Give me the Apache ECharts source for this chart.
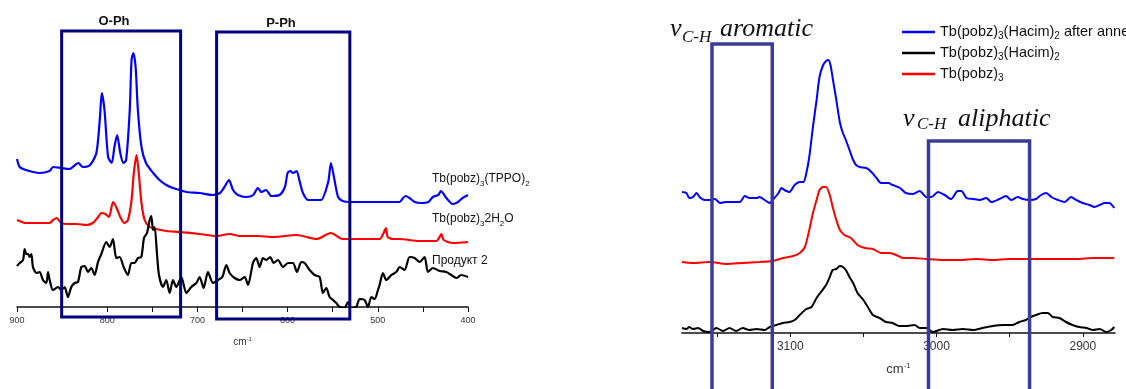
<!DOCTYPE html>
<html><head><meta charset="utf-8">
<script src="https://cdn.jsdelivr.net/npm/echarts@6/dist/echarts.min.js"></script>
<style>html,body{margin:0;padding:0;background:#fff}#c{width:1126px;height:389px}</style>
</head><body><div id="c"></div>
<script>
// ---------- Left panel (900-400 cm-1) ----------
const leftTickValues = [400,450,500,550,600,650,700,750,800,850,900];
const leftTickLabels = [400,500,600,700,800,900];

const leftBlueX = [900,897,890,882,875,864,860,851,842,832,827,819,812,808,806,803,799,795,792,789,785.5,782,779,775,773,771,768.5,766,762,757,749,742,734.5,727,720,712,697.5,683,675,670,665,660.5,655,646,638,633,629,624,618,609,603,600,597,594,590,587,583,577,570,563,555,552,548,544,539,531,513,494,476,472,469,465,459,452,444,439,433,430,424,417,411,406,400];
const leftBlueY = [148,140,137,135,134,136,140,139,138,144,140,142,154,190,214,197,150,144,160,172,154,144,147,197,247,254,240,197,160,144,134,127,122,119,117,115,114,112,114,120,127,117,112,110,112,119,115,117,111,112,120,134,136,134,136,127,114,107,107,107,125,144,127,110,106,105,105,105,105,109,111,109,105,104,105,110,112,116,109,103,105,109,112];

const leftRedX = [900,890,875,864,860,856,851,845,834,823,816,810,806.5,802,798,793.5,790,785.5,781,777,773,770.5,767.5,765,762,758.5,753,745.5,734.5,720,697.5,679,664,653,633,616,590,568,552,539,513,498,493.5,491,489,483,476,454,435,431.5,429.5,427,417,400];
const leftRedY = [87,84,84,84,87,89,84,83,83,82,84,90,94,93,90,105,100,90,84,87,107,134,152,134,104,87,80,78,76,75,73,71,73,71,71,70,72,68,74,68,68,68,74,79,70,68,68,66,66,70,73,67,64,65];

const leftBlackX = [900,897,893.3,891.5,889.7,887.8,886,884.1,882.3,878.6,874.9,871.2,867.5,865.6,863.8,860.1,854.6,850.9,847.2,843.5,839.8,836.1,832.4,828.7,825,821.3,817.6,813.9,810.2,806.5,801,797.3,793.6,789.9,786.2,781.8,777,773.3,769.6,765.9,762.2,759.2,755.9,752.9,751.1,749.2,747.4,744.8,742.6,738.2,734.5,730.8,727.1,723.4,717.8,712.3,706.8,701.2,697.5,693.1,688.3,682.7,677.2,672.4,667.9,664.3,658.7,653.2,647.6,643.9,638.4,634.7,631,627.3,623.6,619.2,615.5,610.7,605.1,599.6,594.1,589.6,584.8,581.1,575.6,570,564.5,560.8,557.1,553.4,549.7,546,542.3,536.8,533.1,529.4,523.9,520.2,514.6,510.9,507.2,503.5,499.8,498,494.3,490.6,485,479.5,475.8,470.3,464.7,459.2,453.6,448.1,444.4,438.9,431.5,424.1,418.6,413,407.5,400];
const leftBlackY = [41,44,47,58,53,53,50,53,40,34,35,27,24,35,27,17,20,17,20,10,20,24,25,40,41,35,39,32,45,53,65,60,68,49,50,40,32,44,44,49,50,69,74,87,91,77,80,53,32,20,27,14,27,20,30,14,20,24,30,19,35,24,27,30,42,34,29,27,30,22,44,49,40,49,47,50,44,47,40,44,44,35,45,44,37,32,30,14,19,10,7,4,0,-1,5,-1,0,8,7,0,10,8,17,22,34,27,32,35,40,37,50,49,45,50,35,39,36,35,32,29,32,30];

const leftNames = ['Tb(pobz)3(TPPO)2', 'Tb(pobz)32H2O', 'Продукт 2'];
const leftBoxNames = ['O-Ph', 'P-Ph'];
const leftBoxX = [[850.5, 718.6], [678.7, 531]];
const leftBoxY = [[-10, 276], [-12, 275]];

// ---------- Right panel (3174-2878 cm-1) ----------
const rightTickValues = [2900,2950,3000,3050,3100,3150];
const rightTickLabels = [2900,3000,3100];

const rightBlueX = [3174,3171,3169,3166.5,3164,3162,3158.5,3155,3151.5,3148,3144,3139,3134.5,3131,3128,3123,3121,3117.5,3114,3112,3108,3106,3104,3100.5,3097,3093.5,3091,3089,3087,3084.5,3082,3080,3077.5,3075.5,3074,3072.5,3071,3068.5,3066,3064,3062,3059.5,3057,3055,3052.5,3048,3044.5,3041,3038,3033,3030,3025,3021,3016,3011.5,3007,3003.5,2999,2994.5,2990,2985.5,2983,2979.5,2975,2970.5,2966,2962.5,2957,2952.5,2949,2944.5,2941,2936.5,2932,2928.5,2925,2921.5,2917,2912.5,2908,2904.5,2900,2895.5,2892,2888.5,2885,2882,2878.5];
const rightBlueY = [141,140,135,136,140,136,133,133,134,130,131,131,131,137,135,135,136,133,130,133,140,145,143,141,148,151,151,160,176,206,233,256,268,272,273,268,255,233,210,200,193,183,173,168,166,165,161,155,150,150,148,145,140,139,142,136,136,141,138,134,142,142,135,134,133,135,131,134,137,133,136,134,133,134,138,140,136,133,131,136,133,130,128,126,128,130,130,125];

const rightBlackX = [3174,3171,3169,3166.5,3163,3159.5,3155,3150.5,3146,3141.5,3137,3132.5,3128,3123,3117.5,3114,3109.5,3105,3100.5,3097,3093.5,3089,3085.5,3082,3079,3075.5,3073,3071,3068.5,3066,3064,3062,3059.5,3057,3054,3050,3047,3043.5,3039,3034.5,3030,3025.5,3021,3015,3011.5,3007,3002.5,2995.5,2989,2982,2975,2968.5,2961.5,2954.5,2948,2943.5,2939,2935.5,2932,2927.5,2924,2920.5,2916,2911.5,2907,2902.5,2897.5,2893,2888.5,2884,2880.5,2878.5];
const rightBlackY = [5,4,6,4,5,2,1,5,2,5,2,5,3,4,3,6,8,10,11,13,18,24,26,35,41,48,56,63,64,67,66,63,56,50,40,33,26,18,15,11,10,7,7,8,5,5,1,4,3,4,3,5,7,8,8,11,13,16,18,20,20,16,15,11,8,6,5,3,4,1,3,6];

const rightRedX = [3174,3166.5,3155,3143.5,3132.5,3121,3112,3105,3098,3093.5,3090,3087,3084.5,3082,3080,3077.5,3075.5,3073,3071,3068.5,3066,3063,3058.5,3054,3049,3043.5,3038,3032,3027.5,3023,3016,3007,2995.5,2984.5,2973,2961.5,2950,2938.5,2927.5,2916,2904.5,2893,2878.5];
const rightRedY = [71,70,71,69,70,71,72,75,77,80,86,103,120,133,143,146,146,138,126,113,103,98,95,88,85,84,80,80,78,75,75,74,73,73,74,73,74,74,74,74,74,75,75];

const rightNames = ['Tb(pobz)3(Hacim)2 after annealing', 'Tb(pobz)3(Hacim)2', 'Tb(pobz)3'];
const rightBoxNames = ['aromatic', 'aliphatic'];
const rightBoxX = [[3153.5, 3112.3], [3005.5, 2936.4]];
const rightBoxY = [[-70, 289], [-70, 192]];

// ---------- helpers ----------
const zip = (xs, ys) => xs.map((x, i) => [x, ys[i]]);
const SANS = "'Liberation Sans', Arial, sans-serif";
const SERIF = "'Liberation Serif', 'Times New Roman', serif";
const legendRich = {
  n: { fontSize: 14.5, lineHeight: 18, fontFamily: SANS, color: '#111' },
  s: { fontSize: 10, lineHeight: 10, verticalAlign: 'bottom', fontFamily: SANS, color: '#111' }
};
function richName(name) {
  const map = {
    'Tb(pobz)3(Hacim)2 after annealing': '{n|Tb(pobz)}{s|3}{n|(Hacim)}{s|2}{n| after annealing}',
    'Tb(pobz)3(Hacim)2': '{n|Tb(pobz)}{s|3}{n|(Hacim)}{s|2}',
    'Tb(pobz)3': '{n|Tb(pobz)}{s|3}'
  };
  return map[name] || name;
}

const chart = echarts.init(document.getElementById('c'), null, { renderer: 'canvas' });

function xAxisCfg(grid, min, max, ticks, labels, fontSize, tickLen, margin, nameGap, nameSize) {
  return {
    type: 'value', gridIndex: grid, min: min, max: max, inverse: true,
    axisLine: { show: true, onZero: false, lineStyle: { color: '#111', width: 1.5 } },
    axisTick: { show: true, inside: false, length: tickLen, customValues: ticks, lineStyle: { color: '#111', width: 1 } },
    axisLabel: { customValues: labels, formatter: (v) => String(v), fontSize: fontSize, color: '#333', margin: margin, fontFamily: SANS },
    splitLine: { show: false },
    name: '{m|cm}{p|-1}', nameLocation: 'middle', nameGap: nameGap,
    nameTextStyle: {
      rich: {
        m: { fontSize: nameSize, lineHeight: nameSize + 2, color: '#333', fontFamily: SANS },
        p: { fontSize: nameSize * 0.6, lineHeight: nameSize * 0.6, verticalAlign: 'top', color: '#333', fontFamily: SANS }
      }
    }
  };
}

const lineSeries = (name, xi, data, color, width) => ({
  name: name, type: 'line', xAxisIndex: xi, yAxisIndex: xi, data: data,
  showSymbol: false, symbol: 'none', smooth: 0.25, clip: true,
  lineStyle: { color: color, width: width }, itemStyle: { color: color },
  emphasis: { disabled: true }, animation: false
});

chart.setOption({
  animation: false,
  backgroundColor: '#fff',
  grid: [
    { left: 17, top: 27, width: 451, height: 280 },
    { left: 682, top: 53, width: 433, height: 280 }
  ],
  xAxis: [
    xAxisCfg(0, 400, 900, leftTickValues, leftTickLabels, 9, 5, 9, 29, 10),
    xAxisCfg(1, 2878, 3174, rightTickValues, rightTickLabels, 12, 4, 8, 29, 13)
  ],
  yAxis: [
    { type: 'value', gridIndex: 0, min: 0, max: 280, show: false },
    { type: 'value', gridIndex: 1, min: 0, max: 280, show: false }
  ],
  legend: {
    data: rightNames, orient: 'vertical', left: 902, top: 23, padding: 0,
    itemWidth: 33, itemHeight: 2.5, itemGap: 3, icon: 'rect',
    formatter: richName, textStyle: { lineHeight: 18, fontSize: 14.5, rich: legendRich },
    selectedMode: false
  },
  series: [
    lineSeries(leftNames[0], 0, zip(leftBlueX, leftBlueY), '#0000ff', 2.2),
    lineSeries(leftNames[1], 0, zip(leftRedX, leftRedY), '#ff0000', 2.2),
    lineSeries(leftNames[2], 0, zip(leftBlackX, leftBlackY), '#000000', 2.2),
    lineSeries(rightNames[0], 1, zip(rightBlueX, rightBlueY), '#0000ff', 2),
    lineSeries(rightNames[1], 1, zip(rightBlackX, rightBlackY), '#000000', 2),
    lineSeries(rightNames[2], 1, zip(rightRedX, rightRedY), '#ff0000', 2)
  ]
});

// ---------- annotation boxes through the axes' scales ----------
function boxRect(grid, bx, by, color, lw) {
  const a = chart.convertToPixel({ gridIndex: grid }, [bx[0], by[1]]);
  const b = chart.convertToPixel({ gridIndex: grid }, [bx[1], by[0]]);
  const x0 = Math.min(a[0], b[0]), x1 = Math.max(a[0], b[0]);
  const y0 = Math.min(a[1], b[1]), y1 = Math.max(a[1], b[1]);
  return {
    type: 'rect', z: 100, silent: true,
    shape: { x: x0, y: y0, width: x1 - x0, height: y1 - y0 },
    style: { fill: 'none', stroke: color, lineWidth: lw }
  };
}

const subRich = {
  s: { fontSize: 8, lineHeight: 8, verticalAlign: 'bottom', fontFamily: SANS, fill: '#111' }
};
function sideLabel(x, y, text) {
  return {
    type: 'text', z: 101, x: x, y: y, silent: true,
    style: { text: text, fontSize: 12, lineHeight: 17, fontFamily: SANS, fill: '#111',
      align: 'left', verticalAlign: 'middle', rich: subRich }
  };
}
function plainText(x, y, text, font, align) {
  return {
    type: 'text', z: 101, x: x, y: y, silent: true,
    style: { text: text, font: font, fill: '#111', align: align || 'left', verticalAlign: 'middle' }
  };
}

const graphics = [
  boxRect(0, leftBoxX[0], leftBoxY[0], '#000080', 3),
  boxRect(0, leftBoxX[1], leftBoxY[1], '#000080', 3),
  boxRect(1, rightBoxX[0], rightBoxY[0], '#3c3c98', 3.5),
  boxRect(1, rightBoxX[1], rightBoxY[1], '#3c3c98', 3.5),
  plainText(114, 21, leftBoxNames[0], "bold 13px " + SANS, 'center'),
  plainText(281, 23, leftBoxNames[1], "bold 13px " + SANS, 'center'),
  sideLabel(432, 179, 'Tb(pobz){s|3}(TPPO){s|2}'),
  sideLabel(432, 219, 'Tb(pobz){s|3}2H{s|2}O'),
  sideLabel(432, 261, leftNames[2]),
  plainText(670, 29, 'ν', "italic 26px " + SERIF),
  plainText(682, 37.5, 'C-H', "italic 17px " + SERIF),
  plainText(720, 29.5, rightBoxNames[0], "italic 26px " + SERIF),
  plainText(903, 119, 'ν', "italic 26px " + SERIF),
  plainText(917, 124.5, 'C-H', "italic 17px " + SERIF),
  plainText(958, 119, rightBoxNames[1], "italic 26px " + SERIF)
];
chart.setOption({ graphic: graphics });
</script>
</body></html>
